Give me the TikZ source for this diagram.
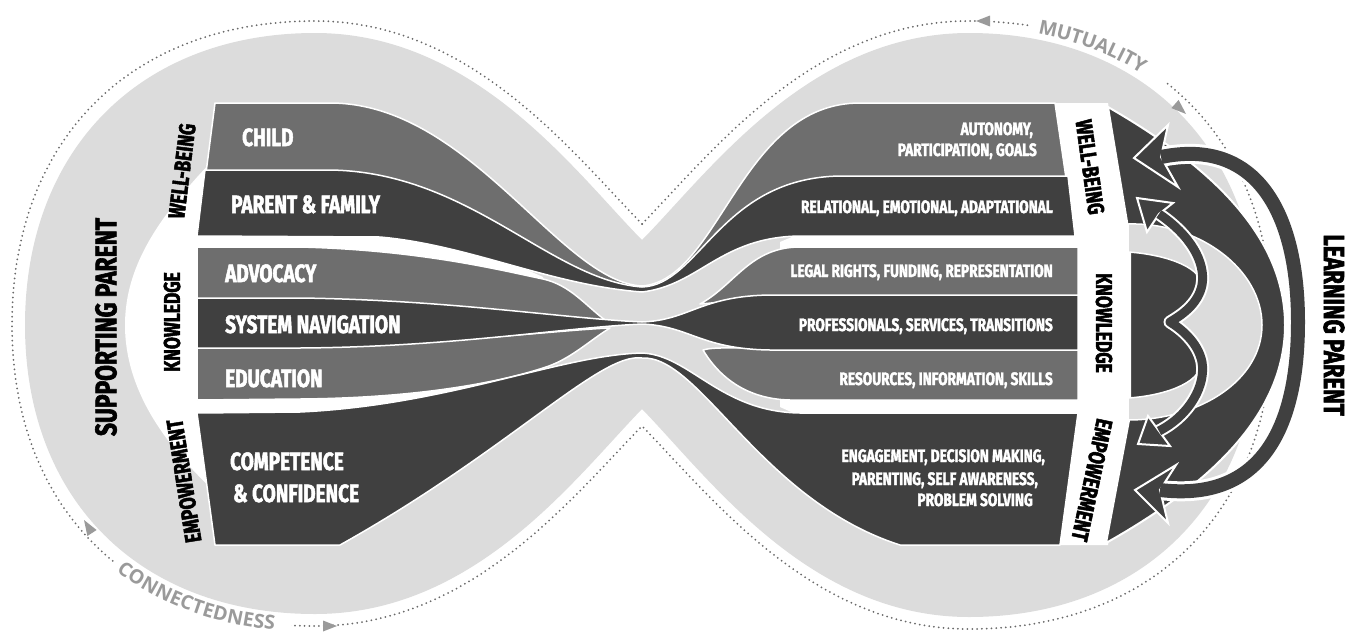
\documentclass[tikz,border=0pt]{standalone}
\usepackage{fontspec}
\usetikzlibrary{decorations.text}
\newfontfamily\cond{Fira Sans}[FakeStretch=0.76, FakeBold=2]
\newfontfamily\bandfont{Open Sans}
\definecolor{band}{HTML}{DCDCDC}
\definecolor{midg}{HTML}{6E6E6E}
\definecolor{dark}{HTML}{404040}
\definecolor{dotc}{HTML}{6A6A6A}
\definecolor{bandtext}{HTML}{9A9A9A}
\newcommand\bandstyle{\bandfont\bfseries\fontsize{19.5}{19.5}\selectfont}
\begin{document}
\begin{tikzpicture}[x=1pt,y=-1pt,
  strand/.style={draw=white, line width=1.5pt, line join=round},
  midstrand/.style={strand, fill=midg},
  darkstrand/.style={strand, fill=dark},
  lefttext/.style={text=white, font=\cond\bfseries\fontsize{25}{25}\selectfont, anchor=base west, inner sep=0pt},
  righttext/.style={text=white, font=\cond\bfseries\fontsize{18}{18}\selectfont, anchor=base east, inner sep=0pt},
  sidelabel/.style={text=black, font=\cond\bfseries\fontsize{23}{23}\selectfont, inner sep=0pt},
  biglabel/.style={text=black, font=\cond\bfseries\fontsize{29}{29}\selectfont, inner sep=0pt},
  dots/.style={draw=dotc, line width=2pt, line cap=round, dash pattern=on 0pt off 4.8pt},
  tri/.style={fill=bandtext},
  headstyle/.style={fill=dark, draw=white, line width=2pt, line join=miter}
]
\useasboundingbox (0,0) rectangle (1350,635);

% light figure-eight band
\fill[band] (642,240) .. controls (575,172) and (475,33) .. (315,33) .. controls (140,33) and (25,150) .. (25,325) .. controls (25,500) and (140,614) .. (315,614) .. controls (475,614) and (575,478) .. (642,409) .. controls (709,478) and (809,617) .. (969,617) .. controls (1144,617) and (1259,500) .. (1259,325) .. controls (1259,150) and (1144,33) .. (969,33) .. controls (809,33) and (709,172) .. (642,240) -- cycle;

% dotted outlines
\draw[dots] (642,224) .. controls (570,150) and (470,21) .. (315,21) .. controls (130,21) and (12,140) .. (12,325) .. controls (12,508) and (130,626) .. (315,626) .. controls (470,626) and (570,500) .. (642,426);
\draw[dots] (642,224) .. controls (714,150) and (814,21) .. (969,21) .. controls (1154,21) and (1272,140) .. (1272,325) .. controls (1272,510) and (1154,629) .. (969,629) .. controls (814,629) and (714,500) .. (642,426);
% erase dots under the band labels
\draw[white, line width=9pt, dash pattern=on 0pt off 458pt on 150pt off 3000pt] (642,224) .. controls (714,150) and (814,21) .. (969,21) .. controls (1154,21) and (1272,140) .. (1272,325) .. controls (1272,510) and (1154,629) .. (969,629);
\draw[white, line width=9pt, dash pattern=on 0pt off 1150pt on 190pt off 3000pt] (642,224) .. controls (570,150) and (470,21) .. (315,21) .. controls (130,21) and (12,140) .. (12,325) .. controls (12,508) and (130,626) .. (315,626) .. controls (470,626) and (570,500) .. (642,426);
% band labels
\path[decorate, decoration={text along path, text={|\bandstyle|MUTUALITY}, text color=bandtext, raise=-7pt, text align={left indent=468pt}}] (642,224) .. controls (714,150) and (814,21) .. (969,21) .. controls (1154,21) and (1272,140) .. (1272,325) .. controls (1272,510) and (1154,629) .. (969,629);
\path[decorate, decoration={text along path, text={|\bandstyle|CONNECTEDNESS}, text color=bandtext, raise=-6pt, text align={left indent=1156pt}}] (642,224) .. controls (570,150) and (470,21) .. (315,21) .. controls (130,21) and (12,140) .. (12,325) .. controls (12,508) and (130,626) .. (315,626) .. controls (470,626) and (570,500) .. (642,426);
% small triangles on the dotted line
\fill[tri] (976,21) -- (990,15.5) -- (990,26.5) -- cycle;
\fill[tri] (1186,114) -- (1178.6,99.9) -- (1171.4,108.1) -- cycle;
\fill[tri] (84,520) -- (96.6,530) -- (87.4,536) -- cycle;
\fill[tri] (337,626) -- (323,620.5) -- (323,631.5) -- cycle;

% white inner holes
\fill[white] (215,158) .. controls (160,215) and (125,265) .. (125,325) .. controls (125,390) and (165,445) .. (215,492) -- (330,480) -- (480,420) -- (543,372) -- (543,277) -- (330,182) -- cycle;
\fill[white] (780,242) -- (820,225) -- (1000,150) -- (1000,103) -- (1108,103) -- (1130,240) -- (1130,415) -- (1108,545) -- (1000,545) -- (1000,470) -- (820,425) -- (780,407) -- cycle;

% strands
\path[midstrand] (215,103) -- (330,103) .. controls (470,103) and (560,282) .. (642,286) .. controls (720,280) and (740,103) .. (860,103) -- (1055,103) -- (1066,178) -- (840,178) .. controls (720,180) and (700,286) .. (642,289) .. controls (550,283) and (470,175) .. (330,173) -- (206,173) -- cycle;
\path[darkstrand] (205,170) -- (330,170) .. controls (470,172) and (550,280) .. (642,287) .. controls (700,285) and (720,178) .. (840,176) -- (1068,176) -- (1075,236) -- (800,236) .. controls (720,237) and (700,285) .. (642,292) .. controls (550,285) and (470,245) .. (380,237) -- (197,236) -- cycle;
\path[midstrand] (197,247) -- (300,247) .. controls (420,250) and (500,270) .. (543,279) .. controls (570,285) and (585,305) .. (605,320) .. controls (560,318) and (450,302) .. (300,302) -- (197,302) -- cycle;
\path[midstrand] (700,304) .. controls (735,285) and (750,247) .. (800,247) -- (1078,247) -- (1078,298) -- (790,298) .. controls (750,298) and (725,302) .. (700,304) -- cycle;
\path[midstrand] (197,345) -- (300,345) .. controls (450,344) and (560,330) .. (610,328) .. controls (590,340) and (570,360) .. (543,368) .. controls (500,382) and (420,398) .. (300,399) -- (197,400) -- cycle;
\path[midstrand] (1078,348) -- (770,348) .. controls (735,348) and (712,347) .. (703,350) .. controls (715,370) and (740,399) .. (790,400) -- (1078,400) -- cycle;
\path[darkstrand] (197,298) -- (300,298) .. controls (450,300) and (560,318) .. (642,322) .. controls (690,320) and (700,296) .. (770,295) -- (1078,295) -- (1078,350) -- (770,350) .. controls (700,349) and (690,326) .. (642,324) .. controls (560,328) and (450,347) .. (300,348) -- (197,348) -- cycle;
\path[darkstrand] (197,413) -- (300,412) .. controls (450,405) and (560,355) .. (642,353) .. controls (690,355) and (720,412) .. (800,413) -- (1078,413) -- (1060,545) -- (900,545) .. controls (760,500) and (700,355) .. (642,358) .. controls (600,352) and (510,450) .. (340,545) -- (215,545) -- cycle;

% right learning shape
\filldraw[fill=dark, draw=white, line width=2pt, line join=round] (1108,107) .. controls (1200,160) and (1285,230) .. (1285,325) .. controls (1285,420) and (1200,490) .. (1106,543) -- (1130,415) -- (1130,240) -- cycle;
\filldraw[fill=band, draw=white, line width=1.5pt] (1128,224) .. controls (1200,222) and (1262,270) .. (1262,325) .. controls (1262,380) and (1200,420) .. (1128,420) -- (1128,398) .. controls (1160,396) and (1200,385) .. (1202,362) .. controls (1198,342) and (1180,328) .. (1170,322) .. controls (1180,316) and (1198,305) .. (1202,285) .. controls (1200,265) and (1160,254) .. (1128,252) -- cycle;
% big double arrow
\draw[white, line width=20pt] (1161,157) .. controls (1258,137) and (1298,215) .. (1298,322) .. controls (1298,430) and (1260,502) .. (1160,490);
\path[headstyle] (1134,158) -- (1168,125) -- (1161,157) -- (1178,187) -- cycle;
\path[headstyle] (1135,490) -- (1176,465) -- (1160,490) -- (1168,523) -- cycle;
\draw[dark, line width=14pt] (1161,157) .. controls (1258,137) and (1298,215) .. (1298,322) .. controls (1298,430) and (1260,502) .. (1160,490);
% small double arrow
\draw[white, line width=13pt, line join=round] (1159,214) .. controls (1190,235) and (1206,262) .. (1202,285) .. controls (1198,305) and (1180,316) .. (1170,322) .. controls (1180,328) and (1198,342) .. (1202,362) .. controls (1206,385) and (1190,415) .. (1159,431);
\path[headstyle] (1137,198) -- (1173,203) -- (1159,214) -- (1147,232) -- cycle;
\path[headstyle] (1138,444) -- (1148,416) -- (1159,431) -- (1170,446) -- cycle;
\draw[dark, line width=9pt, line join=round] (1159,214) .. controls (1190,235) and (1206,262) .. (1202,285) .. controls (1198,305) and (1180,316) .. (1170,322) .. controls (1180,328) and (1198,342) .. (1202,362) .. controls (1206,385) and (1190,415) .. (1159,431);

% strand texts left
\node[lefttext] (tchild) at (242,146) {CHILD};
\node[lefttext] (tpf) at (231,213) {PARENT \& FAMILY};
\node[lefttext] (tadv) at (225,282) {ADVOCACY};
\node[lefttext] (tsys) at (225,333) {SYSTEM NAVIGATION};
\node[lefttext] (tedu) at (225,387) {EDUCATION};
\node[lefttext] (tcomp) at (230,470) {COMPETENCE};
\node[lefttext] (tconf) at (233,502) {\& CONFIDENCE};
% strand texts right
\node[righttext] (taut1) at (1033,135) {AUTONOMY,};
\node[righttext] (taut2) at (1037,156) {PARTICIPATION, GOALS};
\node[righttext] (trel) at (1053,213) {RELATIONAL, EMOTIONAL, ADAPTATIONAL};
\node[righttext] (tleg) at (1053,277) {LEGAL RIGHTS, FUNDING, REPRESENTATION};
\node[righttext] (tpro) at (1053,331) {PROFESSIONALS, SERVICES, TRANSITIONS};
\node[righttext] (tres) at (1053,385) {RESOURCES, INFORMATION, SKILLS};
\node[righttext] (teng1) at (1045,462) {ENGAGEMENT, DECISION MAKING,};
\node[righttext] (teng2) at (1038,485) {PARENTING, SELF AWARENESS,};
\node[righttext] (teng3) at (1033,506) {PROBLEM SOLVING};

% side labels
\node[biglabel, font=\cond\bfseries\fontsize{30}{30}\selectfont, rotate=90] (sup) at (106,327) {SUPPORTING PARENT};
\node[sidelabel, rotate=83] (lwb) at (182,171) {WELL-BEING};
\node[sidelabel, rotate=90] (lkn) at (172,322) {KNOWLEDGE};
\node[sidelabel, rotate=99] (lem) at (184,481) {EMPOWERMENT};
\node[sidelabel, rotate=-82] (rwb) at (1090,167) {WELL-BEING};
\node[sidelabel, rotate=-90] (rkn) at (1104,323) {KNOWLEDGE};
\node[sidelabel, rotate=-102] (rem) at (1092,480) {EMPOWERMENT};
\node[biglabel, rotate=-90] (lrn) at (1334,325) {LEARNING PARENT};
\end{tikzpicture}
\end{document}
